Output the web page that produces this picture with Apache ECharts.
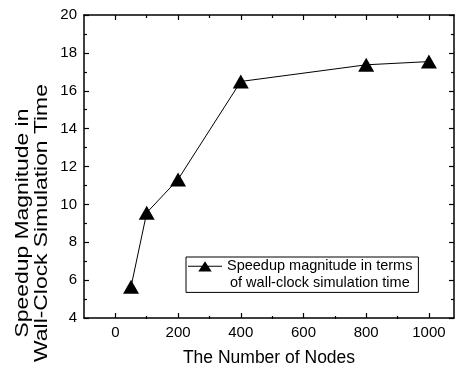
<!DOCTYPE html>
<html>
<head>
<meta charset="utf-8">
<script src="https://cdn.jsdelivr.net/npm/echarts@6/dist/echarts.min.js"></script>
<style>
html,body{margin:0;padding:0;background:#fff;}
#chart{width:457px;height:372px;}
</style>
</head>
<body>
<div id="chart"></div>
<script>
// ---- data ----
var nodes = [50, 100, 200, 400, 800, 1000];
var speedup = [5.65, 9.56, 11.32, 16.49, 17.37, 17.54];
var xMajorTicks = [0, 200, 400, 600, 800, 1000];
var xMinorTicks = [100, 300, 500, 700, 900];
var seriesName = 'Speedup magnitude in terms of wall-clock simulation time';
var legendLines = ['Speedup magnitude in terms', 'of wall-clock simulation time'];
var xTitle = 'The Number of Nodes';
var yTitleLines = ['Speedup Magnitude in', 'Wall-Clock Simulation Time'];

var FONT = '"Liberation Sans", Arial, Helvetica, sans-serif';
var X_MIN = -100, X_MAX = 1080, Y_MIN = 4, Y_MAX = 20;

var chart = echarts.init(document.getElementById('chart'), null, {renderer: 'canvas'});

var points = nodes.map(function (n, i) { return [n, speedup[i]]; });

var axisLineStyle = {color: '#000', width: 1.5};

function xAxisDef(gridIndex, position, ticks, len, showLine, showLabel) {
  var ax = {
    type: 'value',
    gridIndex: gridIndex,
    position: position,
    min: X_MIN,
    max: X_MAX,
    splitLine: {show: false},
    axisLine: {show: showLine, onZero: false, lineStyle: axisLineStyle},
    axisTick: {show: true, inside: true, length: len, customValues: ticks,
               lineStyle: {color: '#000', width: 1.2}},
    axisLabel: {show: showLabel, customValues: ticks, color: '#000',
                fontSize: 15, fontFamily: FONT, margin: 7,
                formatter: function (v) { return String(v); }}
  };
  return ax;
}

var xAxes = [
  xAxisDef(0, 'bottom', xMajorTicks, 5, true, true),
  xAxisDef(0, 'top', xMajorTicks, 5, true, false),
  xAxisDef(1, 'bottom', xMinorTicks, 3, false, false),
  xAxisDef(1, 'top', xMinorTicks, 3, false, false)
];
xAxes[0].name = xTitle;
xAxes[0].nameLocation = 'middle';
xAxes[0].nameGap = 31;
xAxes[0].nameTextStyle = {color: '#000', fontSize: 17.5, fontFamily: FONT};

function yAxisDef(gridIndex, position, showLabel, show) {
  return {
    type: 'value',
    gridIndex: gridIndex,
    position: position,
    show: show,
    min: Y_MIN,
    max: Y_MAX,
    interval: 2,
    splitLine: {show: false},
    axisLine: {show: true, onZero: false, lineStyle: axisLineStyle},
    axisTick: {show: true, inside: true, length: 5, lineStyle: {color: '#000', width: 1.2}},
    minorTick: {show: true, splitNumber: 2, length: 3, lineStyle: {color: '#000', width: 1.2}},
    axisLabel: {show: showLabel, color: '#000', fontSize: 15, fontFamily: FONT, margin: 7}
  };
}

var yAxes = [
  yAxisDef(0, 'left', true, true),
  yAxisDef(0, 'right', false, true),
  yAxisDef(1, 'left', false, false)
];

// legend icon: line + triangle placed at first text line (box 34 x 33.4)
var legendIcon = 'path://M0,0L0.01,0L0,0.01Z M34,33.4L33.99,33.4L34,33.39Z ' +
  'M0,7.85L34,7.85L34,8.85L0,8.85Z M17,3.2L23.7,13.5L10.3,13.5Z';

var option = {
  backgroundColor: '#fff',
  animation: false,
  grid: [
    {left: 84, top: 15, right: 3, bottom: 53, containLabel: false},
    {left: 84, top: 15, right: 3, bottom: 53, containLabel: false}
  ],
  xAxis: xAxes,
  yAxis: yAxes,
  legend: {
    data: [seriesName],
    left: 186,
    top: 257,
    orient: 'vertical',
    padding: [1, 6, 1, 2],
    borderColor: '#000',
    borderWidth: 1,
    itemWidth: 34,
    itemHeight: 33.4,
    icon: legendIcon,
    itemStyle: {color: '#000', borderWidth: 0},
    formatter: function () {
      return '{a|' + legendLines[0] + '}\n{b|' + legendLines[1] + '}';
    },
    textStyle: {
      color: '#000',
      fontFamily: FONT,
      fontSize: 14.5,
      rich: {
        a: {fontSize: 14.5, fontFamily: FONT, color: '#000', lineHeight: 16.7},
        b: {fontSize: 14.5, fontFamily: FONT, color: '#000', lineHeight: 16.7, padding: [0, 0, 0, 3]}
      }
    }
  },
  graphic: [{
    type: 'text',
    x: 33,
    y: 223,
    rotation: Math.PI / 2,
    scaleX: 1.27,
    scaleY: 1,
    style: {
      text: yTitleLines.join('\n'),
      font: '18px ' + FONT,
      fill: '#000',
      align: 'center',
      verticalAlign: 'middle',
      lineHeight: 19
    }
  }],
  series: [{
    name: seriesName,
    type: 'line',
    xAxisIndex: 0,
    yAxisIndex: 0,
    data: points,
    symbol: 'triangle',
    symbolSize: [16, 14],
    lineStyle: {color: '#000', width: 1},
    itemStyle: {color: '#000', borderWidth: 0}
  }]
};

chart.setOption(option);
</script>
</body>
</html>
